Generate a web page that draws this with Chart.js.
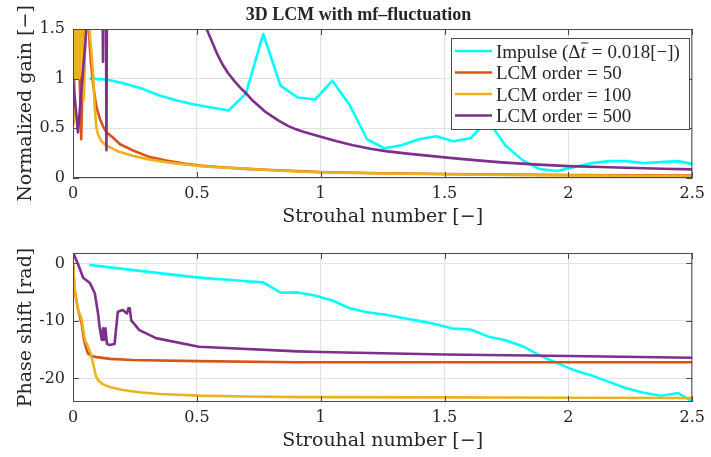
<!DOCTYPE html>
<html>
<head>
<meta charset="utf-8">
<script src="https://cdn.jsdelivr.net/npm/chart.js@4/dist/chart.umd.min.js"></script>
<style>
  html, body { margin: 0; padding: 0; background: #fff; }
  #wrap { position: relative; width: 711px; height: 457px; }
  canvas { position: absolute; left: 0; }
  #gain { top: 0; }
  #phase { top: 232px; }
</style>
</head>
<body>
<div id="wrap">
  <canvas id="gain" width="711" height="232"></canvas>
  <canvas id="phase" width="711" height="225"></canvas>
</div>
<script>
// ---- axis ticks ----
const xTicks = [0, 0.5, 1, 1.5, 2, 2.5];
const xTickLabels = ['0', '0.5', '1', '1.5', '2', '2.5'];
const gainTicks = [0, 0.5, 1, 1.5];
const gainTickLabels = ['0', '0.5', '1', '1.5'];
const phaseTicks = [-20, -10, 0];
const phaseTickLabels = ['-20', '-10', '0'];

// ---- series names and colours ----
const seriesNames = ['Impulse', 'LCM order = 50', 'LCM order = 100', 'LCM order = 500'];
const seriesColors = ['#00FFFF', '#D95319', '#EDB120', '#7E2F8E'];

// ---- impulse response (one value per frequency bin) ----
const impulseSt = [0.070, 0.140, 0.209, 0.279, 0.349, 0.419, 0.489, 0.558, 0.628, 0.698, 0.768, 0.838,
                   0.907, 0.977, 1.047, 1.117, 1.187, 1.256, 1.326, 1.396, 1.466, 1.535, 1.605, 1.675,
                   1.745, 1.815, 1.884, 1.954, 2.024, 2.094, 2.163, 2.233, 2.303, 2.373, 2.443, 2.512];
const impulseGain = [1.00, 0.99, 0.95, 0.90, 0.83, 0.78, 0.74, 0.71, 0.68, 0.85, 1.45, 0.93,
                     0.81, 0.79, 0.98, 0.735, 0.39, 0.30, 0.33, 0.39, 0.42, 0.37, 0.40, 0.58,
                     0.33, 0.18, 0.09, 0.07, 0.11, 0.15, 0.17, 0.17, 0.15, 0.16, 0.17, 0.135];
const impulsePhase = [-0.3, -0.65, -1.0, -1.35, -1.7, -2.05, -2.4, -2.65, -2.85, -3.1, -3.3, -5.1,
                      -5.05, -5.6, -6.45, -7.8, -8.5, -8.9, -9.45, -10.0, -10.6, -11.35, -11.5, -12.7,
                      -13.35, -14.4, -16.0, -17.3, -18.6, -19.5, -20.6, -21.7, -22.5, -23.0, -22.55, -24.3];

// ---- LCM order 50 ----
const lcm50GainSt = [0, 0.003, 0.008, 0.014, 0.020, 0.027, 0.033, 0.039, 0.045, 0.062, 0.067, 0.074,
                     0.081, 0.088, 0.095, 0.108, 0.121, 0.135, 0.16, 0.19, 0.24, 0.31, 0.375, 0.45,
                     0.51, 0.6, 0.7, 0.8, 0.9, 1.0, 1.25, 1.5, 1.75, 2.0, 2.25, 2.5];
const lcm50Gain = [1.0, 0.56, 1.7, 1.1, 1.7, 1.0, 0.39, 1.0, 1.7, 1.7, 1.35, 1.12,
                   0.95, 0.82, 0.71, 0.60, 0.52, 0.46, 0.41, 0.34, 0.28, 0.21, 0.175, 0.145,
                   0.125, 0.108, 0.092, 0.08, 0.07, 0.06, 0.048, 0.04, 0.034, 0.03, 0.027, 0.025];
const lcm50PhaseSt = [0, 0.006, 0.02, 0.035, 0.045, 0.055, 0.061, 0.075, 0.095, 0.15, 0.24, 0.5, 0.9, 1.5, 2.0, 2.5];
const lcm50Phase = [0, -4.5, -8, -10.5, -13.5, -15.0, -15.7, -16.1, -16.3, -16.6, -16.8, -17.0, -17.2, -17.2, -17.2, -17.2];

// ---- LCM order 100 ----
const lcm100GainSt = [0, 0.002, 0.004, 0.006, 0.008, 0.010, 0.012, 0.014, 0.016, 0.018,
                      0.020, 0.022, 0.024, 0.026, 0.028, 0.031, 0.036, 0.044, 0.052, 0.062,
                      0.068, 0.075, 0.081, 0.088, 0.095, 0.101, 0.115, 0.13, 0.148, 0.18,
                      0.24, 0.3, 0.375, 0.45, 0.51, 0.6, 0.67, 0.8, 0.9, 1.0,
                      1.25, 1.5, 1.75, 2.0, 2.25, 2.5];
const lcm100Gain = [1.0, 1.7, 0.55, 1.7, 1.0, 1.7, 1.02, 1.7, 1.0, 1.7,
                    1.05, 1.7, 1.0, 1.7, 1.03, 1.7, 1.7, 0.79, 1.7, 1.7,
                    1.45, 1.25, 1.05, 0.7, 0.5, 0.44, 0.37, 0.335, 0.31, 0.27,
                    0.225, 0.19, 0.16, 0.137, 0.12, 0.105, 0.097, 0.078, 0.066, 0.057,
                    0.045, 0.037, 0.03, 0.026, 0.022, 0.02];
const lcm100PhaseSt = [0, 0.008, 0.021, 0.035, 0.048, 0.061, 0.072, 0.081, 0.092, 0.101, 0.12,
                       0.148, 0.2, 0.268, 0.35, 0.508, 0.7, 0.908, 1.5, 2.0, 2.5];
const lcm100Phase = [0, -5.1, -8.1, -9.8, -13.3, -14.5, -15.8, -17.4, -19.5, -20.3, -21.0,
                     -21.5, -22.0, -22.4, -22.7, -23.0, -23.15, -23.25, -23.3, -23.35, -23.4];

// ---- LCM order 500 ----
const lcm500GainSt = [0, 0.02, 0.061, 0.09, 0.118, 0.121, 0.124, 0.132, 0.135, 0.138, 0.2, 0.3,
                      0.4, 0.5, 0.541, 0.56, 0.58, 0.601, 0.625, 0.65, 0.675, 0.701, 0.725, 0.75,
                      0.775, 0.801, 0.835, 0.868, 0.9, 0.93, 0.965, 1.0, 1.065, 1.13, 1.2, 1.27,
                      1.35, 1.43, 1.51, 1.62, 1.73, 1.86, 2.0, 2.13, 2.27, 2.38, 2.5];
const lcm500Gain = [1.0, 0.46, 1.7, 2.5, 2.5, 1.17, 2.5, 2.5, 0.28, 2.5, 4.5, 3.5,
                    2.6, 1.75, 1.49, 1.38, 1.26, 1.155, 1.06, 0.98, 0.91, 0.846, 0.78, 0.725,
                    0.67, 0.625, 0.57, 0.525, 0.49, 0.465, 0.44, 0.415, 0.37, 0.33, 0.295, 0.268,
                    0.245, 0.225, 0.205, 0.18, 0.157, 0.137, 0.12, 0.11, 0.10, 0.093, 0.087];
const lcm500PhaseSt = [0, 0.021, 0.041, 0.068, 0.088, 0.101, 0.108, 0.116, 0.121, 0.125,
                       0.131, 0.137, 0.148, 0.168, 0.175, 0.181, 0.201, 0.218, 0.224, 0.229,
                       0.235, 0.268, 0.335, 0.508, 0.908, 1.0, 1.5, 2.0, 2.5];
const lcm500Phase = [1.9, -0.2, -2.5, -3.4, -5.2, -8.7, -11.3, -13.3, -11.3, -13.3,
                     -11.3, -14.0, -14.2, -14.0, -10.9, -8.4, -8.1, -8.7, -7.8, -7.8,
                     -9.9, -11.6, -13.0, -14.5, -15.3, -15.4, -15.85, -16.1, -16.4];

// ---- helpers ----
const zip = (xs, ys) => xs.map((x, i) => ({ x, y: ys[i] }));
const SERIF = '"DejaVu Serif", serif';
const LEGEND_FONT = '"Liberation Serif", serif';
const TEXT = '#262626';
const EDGE = '#4a4a4a';

function dataset(i, pts) {
  return {
    label: seriesNames[i],
    data: pts,
    borderColor: seriesColors[i],
    backgroundColor: seriesColors[i],
    borderWidth: 2.6,
    pointRadius: 0,
    tension: 0,
    fill: false,
    borderJoinStyle: 'round',
    borderCapStyle: 'round',
    order: 3 - i
  };
}

// box around the axes, inward ticks on all four sides, y title, figure title, legend
const axesFrame = {
  id: 'axesFrame',
  afterDraw(chart, args, opts) {
    const { ctx, chartArea: a } = chart;
    const xs = chart.scales.x, ys = chart.scales.y;
    ctx.save();
    ctx.strokeStyle = EDGE;
    ctx.lineWidth = 1;
    ctx.strokeRect(a.left + 0.5, a.top + 0.5, a.right - a.left - 1, a.bottom - a.top - 1);
    const tl = 6;
    ctx.beginPath();
    opts.xTicks.forEach(v => {
      const p = Math.round(xs.getPixelForValue(v)) + 0.5;
      ctx.moveTo(p, a.bottom); ctx.lineTo(p, a.bottom - tl);
      ctx.moveTo(p, a.top); ctx.lineTo(p, a.top + tl);
    });
    opts.yTicks.forEach(v => {
      const p = Math.round(ys.getPixelForValue(v)) + 0.5;
      ctx.moveTo(a.left, p); ctx.lineTo(a.left + tl, p);
      ctx.moveTo(a.right, p); ctx.lineTo(a.right - tl, p);
    });
    ctx.stroke();

    // y axis title
    ctx.fillStyle = TEXT;
    ctx.font = '19px ' + SERIF;
    ctx.textAlign = 'center';
    ctx.textBaseline = 'middle';
    ctx.save();
    ctx.translate(26, (a.top + a.bottom) / 2);
    ctx.rotate(-Math.PI / 2);
    ctx.fillText(opts.yTitle, 0, 0);
    ctx.restore();

    if (opts.title) {
      ctx.font = 'bold 18px ' + LEGEND_FONT;
      ctx.textAlign = 'center';
      ctx.textBaseline = 'middle';
      ctx.fillText(opts.title, 358.5, 15);
    }

    if (opts.legend) drawLegend(ctx, chart);
    ctx.restore();
  }
};

// writes a run of text pieces left to right; returns the x after the last piece
function textRun(ctx, x, y, pieces) {
  pieces.forEach(p => {
    x += p.before || 0;
    ctx.font = p.font;
    ctx.fillText(p.text, x, y);
    const w = ctx.measureText(p.text).width;
    if (p.bar) {
      ctx.save();
      ctx.strokeStyle = TEXT;
      ctx.lineWidth = 1;
      ctx.beginPath();
      ctx.moveTo(x + 0.5, y - 14.5); ctx.lineTo(x + w + 2.5, y - 14.5);
      ctx.stroke();
      ctx.restore();
    }
    x += w + (p.after || 0);
  });
  return x;
}

function drawLegend(ctx, chart) {
  const bx = 451, by = 38, bw = 238, bh = 91;
  ctx.fillStyle = '#fff';
  ctx.fillRect(bx, by, bw, bh);
  ctx.strokeStyle = EDGE;
  ctx.lineWidth = 1;
  ctx.strokeRect(bx + 0.5, by + 0.5, bw, bh);
  const rowY = [51, 72.5, 94, 115.5];
  const up = '19px ' + LEGEND_FONT;
  const it = 'italic 19px ' + LEGEND_FONT;
  ctx.textAlign = 'left';
  ctx.textBaseline = 'alphabetic';
  chart.data.datasets.forEach((ds, i) => {
    const y = rowY[i];
    ctx.strokeStyle = ds.borderColor;
    ctx.lineWidth = 2.6;
    ctx.beginPath();
    ctx.moveTo(455, y); ctx.lineTo(492, y);
    ctx.stroke();
    ctx.fillStyle = TEXT;
    const base = y + 6.5;
    if (i === 0) {
      textRun(ctx, 496, base, [
        { text: ds.label + ' (', font: up },
        { text: '\u0394', font: up },
        { text: 't', font: it, bar: true, after: 1 },
        { text: '=', font: up, before: 5, after: 5 },
        { text: '0.018[\u2212])', font: up }
      ]);
    } else {
      const parts = ds.label.split(' = ');
      textRun(ctx, 496, base, [
        { text: parts[0], font: up },
        { text: '=', font: up, before: 5, after: 5 },
        { text: parts[1], font: up }
      ]);
    }
  });
}

function makeOptions(yMin, yMax, yTicksArr, yLabels, xAxisHeight, frameOpts, xTitlePad) {
  return {
    responsive: false,
    animation: false,
    devicePixelRatio: 1,
    layout: { padding: { top: frameOpts.padTop, right: 13, left: 0, bottom: 0 } },
    plugins: {
      legend: { display: false },
      tooltip: { enabled: false },
      axesFrame: frameOpts
    },
    scales: {
      x: {
        type: 'linear',
        min: 0, max: 2.5,
        afterBuildTicks: s => { s.ticks = xTicks.map(v => ({ value: v })); },
        afterFit: s => { s.height = xAxisHeight; },
        ticks: {
          padding: 6,
          color: TEXT,
          font: { family: SERIF, size: 16 },
          maxRotation: 0,
          autoSkip: false,
          callback: (v, i) => xTickLabels[i]
        },
        grid: { color: '#e2e2e2', lineWidth: 1, drawTicks: false },
        border: { display: false },
        title: {
          display: true,
          text: 'Strouhal number [\u2212]',
          color: TEXT,
          font: { family: SERIF, size: 19 },
          padding: { top: 0, bottom: xTitlePad }
        }
      },
      y: {
        type: 'linear',
        min: yMin, max: yMax,
        afterBuildTicks: s => { s.ticks = yTicksArr.map(v => ({ value: v })); },
        afterFit: s => { s.width = 73; },
        ticks: {
          padding: 8,
          color: TEXT,
          font: { family: SERIF, size: 16 },
          autoSkip: false,
          callback: (v, i) => yLabels[i]
        },
        grid: { color: '#e2e2e2', lineWidth: 1, drawTicks: false },
        border: { display: false }
      }
    }
  };
}

new Chart(document.getElementById('gain'), {
  type: 'line',
  data: {
    datasets: [
      dataset(0, zip(impulseSt, impulseGain)),
      dataset(1, zip(lcm50GainSt, lcm50Gain)),
      dataset(2, zip(lcm100GainSt, lcm100Gain)),
      dataset(3, zip(lcm500GainSt, lcm500Gain))
    ]
  },
  options: makeOptions(0, 1.5, gainTicks, gainTickLabels, 54,
    { padTop: 29, xTicks, yTicks: gainTicks, yTitle: 'Normalized gain [\u2212]',
      title: '3D LCM with mf\u2013fluctuation', legend: true }, 4),
  plugins: [axesFrame]
});

new Chart(document.getElementById('phase'), {
  type: 'line',
  data: {
    datasets: [
      dataset(0, zip(impulseSt, impulsePhase)),
      dataset(1, zip(lcm50PhaseSt, lcm50Phase)),
      dataset(2, zip(lcm100PhaseSt, lcm100Phase)),
      dataset(3, zip(lcm500PhaseSt, lcm500Phase))
    ]
  },
  options: makeOptions(-24.1, 1.8, phaseTicks, phaseTickLabels, 55,
    { padTop: 21, xTicks, yTicks: phaseTicks, yTitle: 'Phase shift [rad]',
      title: null, legend: false }, 5),
  plugins: [axesFrame]
});
</script>
</body>
</html>
